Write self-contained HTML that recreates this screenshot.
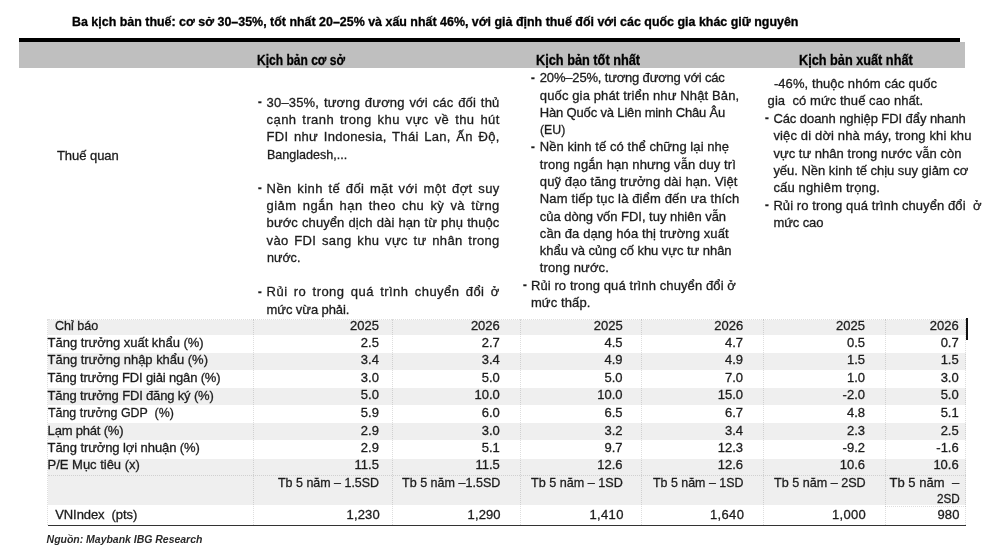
<!DOCTYPE html>
<html lang="vi"><head><meta charset="utf-8"><title>Ba kịch bản thuế</title>
<style>
html,body{margin:0;padding:0;background:#fff}
#p{position:relative;width:1000px;height:555px;overflow:hidden;background:#fff;font-family:'Liberation Sans', sans-serif;font-size:13px;line-height:1;color:#1c1c1c}
#p span{position:absolute;white-space:pre;display:block;-webkit-text-stroke:0.3px currentColor}
#p div{position:absolute}
</style></head><body><div id="p">
<div style="left:19px;top:38px;width:941.3px;height:4.2px;background:#000"></div>
<div style="left:19px;top:42px;width:946.3px;height:25.5px;background:#bfbfbf"></div>
<div style="left:47.5px;top:319.6px;width:918.0px;height:15.199999999999989px;background:#efefef"></div>
<div style="left:47.5px;top:353.2px;width:918.0px;height:16.69999999999999px;background:#efefef"></div>
<div style="left:47.5px;top:388.4px;width:918.0px;height:16.400000000000034px;background:#efefef"></div>
<div style="left:47.5px;top:423.3px;width:918.0px;height:16.5px;background:#efefef"></div>
<div style="left:47.5px;top:458.7px;width:918.0px;height:46.80000000000001px;background:#efefef"></div>
<div style="left:47.5px;top:318.7px;width:918.0px;height:0;border-top:1px dotted rgba(0,0,0,0.13)"></div>
<div style="left:47.5px;top:475.4px;width:918.0px;height:0;border-top:1px dotted rgba(0,0,0,0.13)"></div>
<div style="left:884.5px;top:505.5px;width:81.0px;height:0;border-top:1px dotted rgba(0,0,0,0.13)"></div>
<div style="left:47.2px;top:318.5px;width:0;height:206.5px;border-left:1px dotted rgba(0,0,0,0.13)"></div>
<div style="left:253.3px;top:318.5px;width:0;height:206.5px;border-left:1px dotted rgba(0,0,0,0.13)"></div>
<div style="left:392.3px;top:318.5px;width:0;height:206.5px;border-left:1px dotted rgba(0,0,0,0.13)"></div>
<div style="left:520.2px;top:318.5px;width:0;height:206.5px;border-left:1px dotted rgba(0,0,0,0.13)"></div>
<div style="left:641.3px;top:318.5px;width:0;height:206.5px;border-left:1px dotted rgba(0,0,0,0.13)"></div>
<div style="left:762.6px;top:318.5px;width:0;height:206.5px;border-left:1px dotted rgba(0,0,0,0.13)"></div>
<div style="left:884.5px;top:318.5px;width:0;height:206.5px;border-left:1px dotted rgba(0,0,0,0.13)"></div>
<div style="left:965.3px;top:318.5px;width:0;height:206.5px;border-left:1px dotted rgba(0,0,0,0.13)"></div>
<div style="left:47.5px;top:524.5px;width:918.0px;height:1.5px;background:#333"></div>
<div style="left:965.9px;top:318px;width:2.1px;height:21.6px;background:#111"></div>
<span style="top:16.17px;font-size:12.2px;font-weight:700;color:#000;left:71.90px;transform:scaleX(1.0203);transform-origin:0 0;">Ba kịch bản thuế: cơ sở 30–35%, tốt nhất 20–25% và xấu nhất 46%, với giả định thuế đối với các quốc gia khác giữ nguyên</span>
<span style="top:52.55px;font-size:14px;font-weight:700;color:#000;left:257.40px;transform:scaleX(0.8596);transform-origin:0 0;">Kịch bản cơ sở</span>
<span style="top:52.55px;font-size:14px;font-weight:700;color:#000;left:536.00px;transform:scaleX(0.9105);transform-origin:0 0;">Kịch bản tốt nhất</span>
<span style="top:52.55px;font-size:14px;font-weight:700;color:#000;left:799.10px;transform:scaleX(0.9079);transform-origin:0 0;">Kịch bản xuất nhất</span>
<span style="top:149.30px;left:56.90px;letter-spacing:-0.034px;">Thuế quan</span>
<span style="top:95.90px;left:266.60px;letter-spacing:0.175px;word-spacing:0.993px;">30–35%, tương đương với các đối thủ</span>
<span style="top:95.20px;font-weight:700;left:258.10px;transform:scaleX(0.852);transform-origin:0 0;">-</span>
<span style="top:113.10px;left:266.60px;letter-spacing:0.403px;word-spacing:1.958px;">cạnh tranh trong khu vực về thu hút</span>
<span style="top:130.30px;left:266.60px;letter-spacing:0.301px;word-spacing:1.703px;">FDI như Indonesia, Thái Lan, Ấn Độ,</span>
<span style="top:147.60px;left:266.60px;transform:scaleX(0.9648);transform-origin:0 0;">Bangladesh,...</span>
<span style="top:182.00px;left:266.60px;letter-spacing:0.398px;word-spacing:1.691px;">Nền kinh tế đối mặt với một đợt suy</span>
<span style="top:181.30px;font-weight:700;left:258.10px;transform:scaleX(0.852);transform-origin:0 0;">-</span>
<span style="top:199.20px;left:266.60px;letter-spacing:0.451px;word-spacing:2.061px;">giảm ngắn hạn theo chu kỳ và từng</span>
<span style="top:216.40px;left:266.60px;letter-spacing:0.081px;word-spacing:0.417px;">bước chuyển dịch dài hạn từ phụ thuộc</span>
<span style="top:233.70px;left:266.60px;letter-spacing:0.361px;word-spacing:1.700px;">vào FDI sang khu vực tư nhân trong</span>
<span style="top:250.90px;left:266.60px;transform:scaleX(0.9659);transform-origin:0 0;">nước.</span>
<span style="top:285.30px;left:266.60px;letter-spacing:0.459px;word-spacing:2.230px;">Rủi ro trong quá trình chuyển đổi ở</span>
<span style="top:284.60px;font-weight:700;left:258.10px;transform:scaleX(0.852);transform-origin:0 0;">-</span>
<span style="top:302.50px;left:266.60px;letter-spacing:-0.091px;">mức vừa phải.</span>
<span style="top:71.30px;left:539.80px;letter-spacing:-0.174px;">20%–25%, tương đương với các</span>
<span style="top:70.80px;font-weight:700;left:531.30px;transform:scaleX(0.875);transform-origin:0 0;">-</span>
<span style="top:88.60px;left:539.80px;letter-spacing:0.132px;">quốc gia phát triển như Nhật Bản,</span>
<span style="top:105.90px;left:539.80px;letter-spacing:-0.163px;">Hàn Quốc và Liên minh Châu Âu</span>
<span style="top:123.20px;left:539.80px;transform:scaleX(0.9469);transform-origin:0 0;">(EU)</span>
<span style="top:140.40px;left:539.80px;letter-spacing:0.067px;">Nền kinh tế có thể chững lại nhẹ</span>
<span style="top:139.90px;font-weight:700;left:531.30px;transform:scaleX(0.875);transform-origin:0 0;">-</span>
<span style="top:157.70px;left:539.80px;letter-spacing:0.096px;">trong ngắn hạn nhưng vẫn duy trì</span>
<span style="top:175.00px;left:539.80px;letter-spacing:0.110px;">quỹ đạo tăng trưởng dài hạn. Việt</span>
<span style="top:192.30px;left:539.80px;letter-spacing:0.133px;">Nam tiếp tục là điểm đến ưa thích</span>
<span style="top:209.60px;left:539.80px;letter-spacing:-0.030px;">của dòng vốn FDI, tuy nhiên vẫn</span>
<span style="top:226.90px;left:539.80px;letter-spacing:0.105px;">cần đa dạng hóa thị trường xuất</span>
<span style="top:244.20px;left:539.80px;letter-spacing:-0.041px;">khẩu và củng cố khu vực tư nhân</span>
<span style="top:261.40px;left:539.80px;letter-spacing:0.119px;">trong nước.</span>
<span style="top:278.70px;left:530.90px;letter-spacing:0.103px;">Rủi ro trong quá trình chuyển đổi ở</span>
<span style="top:278.20px;font-weight:700;left:522.50px;transform:scaleX(0.875);transform-origin:0 0;">-</span>
<span style="top:296.00px;left:530.90px;letter-spacing:0.117px;">mức thấp.</span>
<span style="top:77.00px;left:773.90px;letter-spacing:0.081px;">-46%, thuộc nhóm các quốc</span>
<span style="top:94.40px;left:767.60px;letter-spacing:0.061px;">gia  có mức thuế cao nhất.</span>
<span style="top:111.80px;left:773.40px;letter-spacing:-0.070px;">Các doanh nghiệp FDI đẩy nhanh</span>
<span style="top:111.30px;font-weight:700;left:765.40px;transform:scaleX(0.875);transform-origin:0 0;">-</span>
<span style="top:129.10px;left:773.40px;letter-spacing:0.146px;">việc di dời nhà máy, trong khi khu</span>
<span style="top:146.50px;left:773.40px;letter-spacing:0.030px;">vực tư nhân trong nước vẫn còn</span>
<span style="top:163.80px;left:773.40px;letter-spacing:-0.025px;">yếu. Nền kinh tế chịu suy giảm cơ</span>
<span style="top:181.20px;left:773.40px;letter-spacing:0.158px;">cấu nghiêm trọng.</span>
<span style="top:198.60px;left:773.40px;letter-spacing:0.089px;">Rủi ro trong quá trình chuyển đổi  ở</span>
<span style="top:198.10px;font-weight:700;left:765.40px;transform:scaleX(0.875);transform-origin:0 0;">-</span>
<span style="top:215.90px;left:773.40px;letter-spacing:-0.085px;">mức cao</span>
<span style="top:318.80px;left:55.20px;transform:scaleX(0.9662);transform-origin:0 0;">Chỉ báo</span>
<span style="top:336.00px;left:47.60px;letter-spacing:-0.024px;">Tăng trưởng xuất khẩu (%)</span>
<span style="top:353.40px;left:47.60px;letter-spacing:-0.027px;">Tăng trưởng nhập khẩu (%)</span>
<span style="top:370.80px;left:47.60px;letter-spacing:-0.166px;">Tăng trưởng FDI giải ngân (%)</span>
<span style="top:389.30px;left:47.60px;letter-spacing:-0.162px;">Tăng trưởng FDI đăng ký (%)</span>
<span style="top:405.90px;left:47.60px;transform:scaleX(0.9539);transform-origin:0 0;">Tăng trưởng GDP  (%)</span>
<span style="top:423.60px;left:47.60px;letter-spacing:-0.195px;">Lạm phát (%)</span>
<span style="top:440.90px;left:47.60px;letter-spacing:-0.086px;">Tăng trưởng lợi nhuận (%)</span>
<span style="top:458.20px;left:47.60px;letter-spacing:-0.018px;">P/E Mục tiêu (x)</span>
<span style="top:507.80px;left:55.20px;letter-spacing:-0.076px;">VNIndex  (pts)</span>
<span style="top:318.80px;right:621.10px;">2025</span>
<span style="top:336.00px;right:621.10px;">2.5</span>
<span style="top:353.40px;right:621.10px;">3.4</span>
<span style="top:370.80px;right:621.10px;">3.0</span>
<span style="top:388.30px;right:621.10px;">5.0</span>
<span style="top:405.90px;right:621.10px;">5.9</span>
<span style="top:423.60px;right:621.10px;">2.9</span>
<span style="top:440.90px;right:621.10px;">2.9</span>
<span style="top:458.20px;right:621.10px;">11.5</span>
<span style="top:318.80px;right:500.20px;">2026</span>
<span style="top:336.00px;right:500.20px;">2.7</span>
<span style="top:353.40px;right:500.20px;">3.4</span>
<span style="top:370.80px;right:500.20px;">5.0</span>
<span style="top:388.30px;right:500.20px;">10.0</span>
<span style="top:405.90px;right:500.20px;">6.0</span>
<span style="top:423.60px;right:500.20px;">3.0</span>
<span style="top:440.90px;right:500.20px;">5.1</span>
<span style="top:458.20px;right:500.20px;">11.5</span>
<span style="top:318.80px;right:377.40px;">2025</span>
<span style="top:336.00px;right:377.40px;">4.5</span>
<span style="top:353.40px;right:377.40px;">4.9</span>
<span style="top:370.80px;right:377.40px;">5.0</span>
<span style="top:388.30px;right:377.40px;">10.0</span>
<span style="top:405.90px;right:377.40px;">6.5</span>
<span style="top:423.60px;right:377.40px;">3.2</span>
<span style="top:440.90px;right:377.40px;">9.7</span>
<span style="top:458.20px;right:377.40px;">12.6</span>
<span style="top:318.80px;right:256.90px;">2026</span>
<span style="top:336.00px;right:256.90px;">4.7</span>
<span style="top:353.40px;right:256.90px;">4.9</span>
<span style="top:370.80px;right:256.90px;">7.0</span>
<span style="top:388.30px;right:256.90px;">15.0</span>
<span style="top:405.90px;right:256.90px;">6.7</span>
<span style="top:423.60px;right:256.90px;">3.4</span>
<span style="top:440.90px;right:256.90px;">12.3</span>
<span style="top:458.20px;right:256.90px;">12.6</span>
<span style="top:318.80px;right:135.00px;">2025</span>
<span style="top:336.00px;right:135.00px;">0.5</span>
<span style="top:353.40px;right:135.00px;">1.5</span>
<span style="top:370.80px;right:135.00px;">1.0</span>
<span style="top:388.30px;right:135.00px;">-2.0</span>
<span style="top:405.90px;right:135.00px;">4.8</span>
<span style="top:423.60px;right:135.00px;">2.3</span>
<span style="top:440.90px;right:135.00px;">-9.2</span>
<span style="top:458.20px;right:135.00px;">10.6</span>
<span style="top:318.80px;right:41.30px;">2026</span>
<span style="top:336.00px;right:41.30px;">0.7</span>
<span style="top:353.40px;right:41.30px;">1.5</span>
<span style="top:370.80px;right:41.30px;">3.0</span>
<span style="top:388.30px;right:41.30px;">5.0</span>
<span style="top:405.90px;right:41.30px;">5.1</span>
<span style="top:423.60px;right:41.30px;">2.5</span>
<span style="top:440.90px;right:41.30px;">-1.6</span>
<span style="top:458.20px;right:41.30px;">10.6</span>
<span style="top:475.50px;left:278.40px;transform:scaleX(0.9583);transform-origin:0 0;">Tb 5 năm – 1.5SD</span>
<span style="top:475.50px;left:402.00px;transform:scaleX(0.9657);transform-origin:0 0;">Tb 5 năm –1.5SD</span>
<span style="top:475.50px;left:531.40px;transform:scaleX(0.9698);transform-origin:0 0;">Tb 5 năm – 1SD</span>
<span style="top:475.50px;left:653.30px;transform:scaleX(0.9550);transform-origin:0 0;">Tb 5 năm – 1SD</span>
<span style="top:475.50px;left:773.90px;transform:scaleX(0.9688);transform-origin:0 0;">Tb 5 năm – 2SD</span>
<span style="top:475.50px;left:889.40px;letter-spacing:0.052px;">Tb 5 năm  –</span>
<span style="top:492.00px;left:936.60px;transform:scaleX(0.9013);transform-origin:0 0;">2SD</span>
<span style="top:507.80px;left:346.50px;letter-spacing:0.163px;">1,230</span>
<span style="top:507.80px;left:467.60px;letter-spacing:0.113px;">1,290</span>
<span style="top:507.80px;left:589.40px;letter-spacing:0.363px;">1,410</span>
<span style="top:507.80px;left:710.00px;letter-spacing:0.338px;">1,640</span>
<span style="top:507.80px;left:831.90px;letter-spacing:0.338px;">1,000</span>
<span style="top:507.80px;left:937.40px;letter-spacing:0.198px;">980</span>
<span style="top:534.41px;font-size:10.5px;font-weight:700;font-style:italic;color:#2a2a2a;-webkit-text-stroke:0;left:46.60px;letter-spacing:-0.022px;">Nguồn: Maybank IBG Research</span>
</div></body></html>
